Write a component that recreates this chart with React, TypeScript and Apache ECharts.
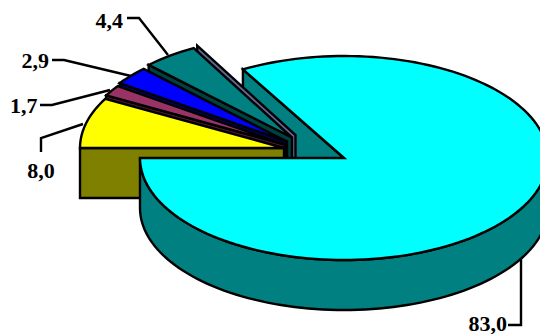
import React, { useEffect, useRef } from "react";
import * as echarts from "echarts";

const categories = ["A", "B", "C", "D", "E", "F"];
const sliceValues = [8.0, 1.7, 2.9, 4.4, 0.0, 83.0];
const topColors = ["#FFFF00", "#993366", "#0000FF", "#008080", "#9999CC", "#00FFFF"];
const wallColors = ["#808000", "#4D1933", "#000080", "#004040", "#666699", "#008080"];

// layout of the drawing, in pixels
const RX = 204, RY = 102, DEPTH = 50;
const BIG_START_SHIFT = -0.9;
const CENTRES = [[284, 148], [285, 144.5], [287, 141.5], [292, 137.5], [295.5, 135], [344, 158]];
const LEADERS: Record<number, number[][]> = {
  0: [[41, 152], [41, 138], [83, 124]],
  1: [[40, 105], [52, 105], [110, 90]],
  2: [[52, 60], [64, 60], [131, 76]],
  3: [[127, 18], [139, 18], [168, 55]],
  5: [[508, 325], [521, 325], [521, 258]],
};
const LABEL_POS: Record<number, number[]> = {
  0: [41, 170, 0],
  1: [37.5, 105, 1],
  2: [49, 60, 1],
  3: [123, 20, 1],
  5: [507, 323, 1],
};

const fmt = (v: number) => v.toFixed(1).replace(".", ",");
const rad = (d: number) => (d * Math.PI) / 180;

function arc(c: number[], from: number, to: number, dy = 0) {
  const n = Math.max(2, Math.ceil(Math.abs(to - from) / 2));
  const pts: number[][] = [];
  for (let i = 0; i <= n; i++) {
    const t = rad(from + ((to - from) * i) / n);
    pts.push([c[0] + RX * Math.cos(t), c[1] + RY * Math.sin(t) + dy]);
  }
  return pts;
}

export default function App() {
  const ref = useRef<HTMLDivElement>(null);
  useEffect(() => {
    document.body.style.margin = "0";
    const chart = echarts.init(ref.current!, null, { renderer: "svg" });
    const line = { stroke: "#000", lineWidth: 2.4, lineJoin: "miter" as const };

    const renderItem = (_p: any, api: any) => {
      const idx = api.value(0) as number;
      const val = api.value(1) as number;
      let start = 180;
      for (let i = 0; i < idx; i++) start += (sliceValues[i] / 100) * 360;
      const end = start + (val / 100) * 360;
      const c = CENTRES[idx];
      const top = topColors[idx];
      const wall = wallColors[idx];
      const children: any[] = [];
      const poly = (points: number[][], fill: string, z2: number, closed = true) => ({
        type: closed ? "polygon" : "polyline",
        z2,
        shape: { points },
        style: closed ? { fill, ...line } : { fill: "none", ...line },
      });

      if (idx === 5) {
        const bigStart = start + BIG_START_SHIFT;
        const e = arc(c, bigStart, bigStart)[0];
        // back wall of the big slice, behind the exploded slices
        children.push(poly([e, c, [c[0], c[1] + DEPTH], [e[0], e[1] + DEPTH]], wall, 1));
        // outer wall along the front half
        const frontTop = arc(c, 360, 540);
        const frontBottom = arc(c, 540, 360, DEPTH);
        children.push(poly([...frontTop, ...frontBottom], wall, 20));
        children.push(poly([c, ...arc(c, bigStart, end)], top, 21));
      } else {
        const z = 10 - idx + 2;
        const s = arc(c, start, start)[0];
        children.push(poly([s, c, [c[0], c[1] + DEPTH], [s[0], s[1] + DEPTH]], wall, z));
        if (val > 0) children.push(poly([c, ...arc(c, start, end)], top, z));
      }
      if (LEADERS[idx]) {
        children.push(poly(LEADERS[idx], "none", 30, false));
        const [x, y, right] = LABEL_POS[idx];
        children.push({
          type: "text",
          z2: 31,
          x,
          y,
          style: {
            text: fmt(val),
            fill: "#000",
            font: 'bold 22px "Liberation Serif"',
            align: right ? "right" : "center",
            verticalAlign: "middle",
          },
        });
      }
      return { type: "group", children };
    };

    chart.setOption({
      animation: false,
      backgroundColor: "#fff",
      series: [
        {
          type: "custom",
          coordinateSystem: "none",
          silent: true,
          clip: false,
          renderItem,
          data: categories.map((name, i) => ({ name, value: [i, sliceValues[i]] })),
          encode: { value: 1 },
        },
      ],
    });
    return () => chart.dispose();
  }, []);
  return <div ref={ref} style={{ width: 540, height: 334 }} />;
}
